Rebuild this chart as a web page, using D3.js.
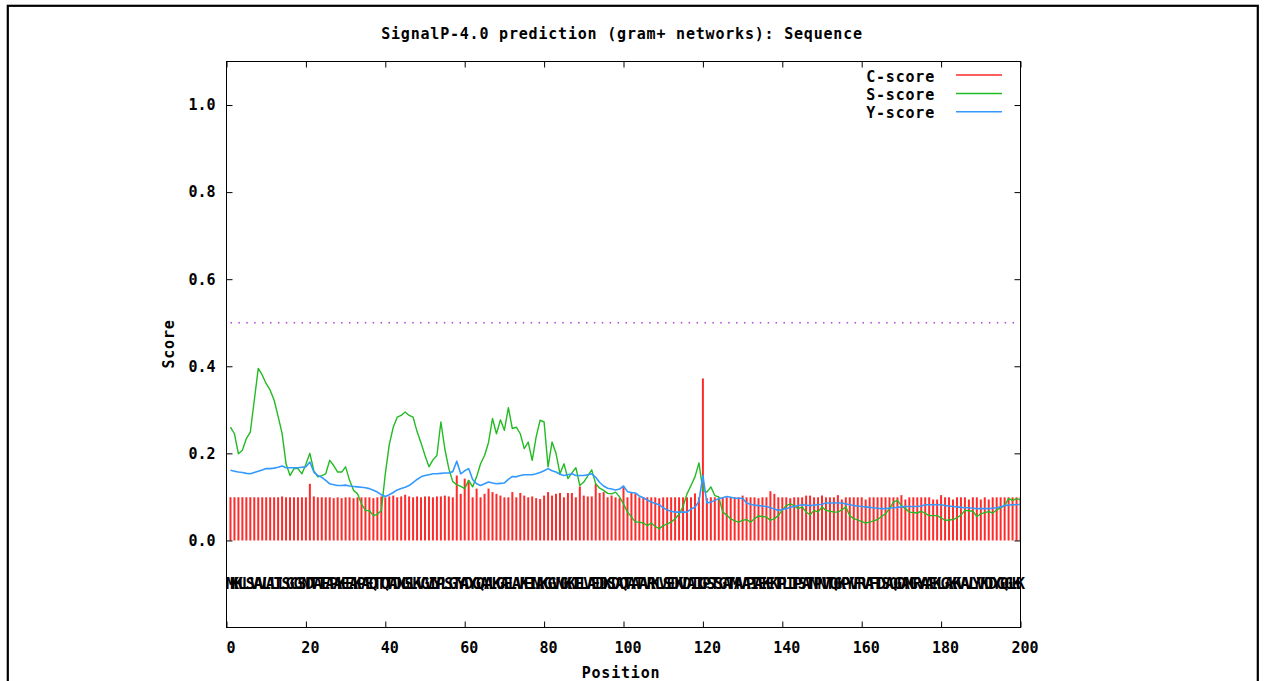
<!DOCTYPE html>
<html>
<head>
<meta charset="utf-8">
<script src="https://cdn.jsdelivr.net/npm/d3@7"></script>
<style>
  html, body { margin: 0; padding: 0; background: #fff; }
  svg { display: block; }
  text { font-family: "DejaVu Sans Mono", "Liberation Mono", monospace; font-weight: bold; fill: #000; }
</style>
</head>
<body>
<svg id="chart" width="1266" height="681"></svg>
<script>
// ---------- data ----------
const title = "SignalP-4.0 prediction (gram+ networks): Sequence";
const xTicks = [0, 20, 40, 60, 80, 100, 120, 140, 160, 180, 200];
const yTicks = [0.0, 0.2, 0.4, 0.6, 0.8, 1.0];
const seriesNames = ["C-score", "S-score", "Y-score"];
const seriesColors = ["#ff2a2a", "#22bb22", "#3399ff"];
const threshold = 0.5;

const sequence = ("MKKLLSVAVLALTLSGCGSNDTATEAPAKEEAKPAEQTTQTADNGSLKVG" +
  "VIYPLSGTYADYGQAALKGAELAVKEINAKGGVNGKKIELVAEDDKSDAQ" +
  "TAATAVRKLVSEDKVDAIIGPSTSGATMAVAPIAEKEKTPLITPSATNPN" +
  "VTQGKPYVFRVAFTDSAQGDAMGRYAAEKLGAKKVAVLYVKDDYGQGLKK").split("");

const cScore = [
  0.099,0.099,0.099,0.099,0.099,0.099,0.099,0.099,0.099,0.099,
  0.099,0.099,0.099,0.101,0.099,0.099,0.099,0.099,0.099,0.099,
  0.130,0.101,0.099,0.099,0.099,0.099,0.097,0.099,0.097,0.099,
  0.099,0.097,0.099,0.099,0.099,0.099,0.097,0.099,0.101,0.099,
  0.101,0.103,0.099,0.101,0.105,0.101,0.099,0.101,0.099,0.101,
  0.101,0.099,0.101,0.101,0.103,0.101,0.099,0.149,0.107,0.142,
  0.138,0.099,0.119,0.099,0.107,0.119,0.111,0.107,0.103,0.099,
  0.099,0.111,0.099,0.109,0.103,0.099,0.101,0.097,0.095,0.103,
  0.111,0.103,0.107,0.109,0.099,0.109,0.109,0.099,0.124,0.103,
  0.101,0.101,0.130,0.109,0.111,0.099,0.103,0.099,0.097,0.123,
  0.099,0.109,0.107,0.099,0.099,0.099,0.099,0.099,0.097,0.099,
  0.099,0.099,0.099,0.099,0.099,0.099,0.099,0.108,0.099,0.372,
  0.097,0.099,0.099,0.099,0.099,0.099,0.099,0.099,0.099,0.103,
  0.099,0.099,0.099,0.097,0.099,0.099,0.113,0.107,0.099,0.099,
  0.099,0.097,0.099,0.099,0.099,0.103,0.103,0.099,0.099,0.103,
  0.099,0.099,0.099,0.104,0.094,0.099,0.099,0.099,0.099,0.099,
  0.094,0.099,0.099,0.099,0.099,0.099,0.099,0.099,0.099,0.104,
  0.094,0.099,0.099,0.099,0.099,0.099,0.099,0.094,0.094,0.104,
  0.099,0.099,0.094,0.099,0.099,0.099,0.094,0.099,0.099,0.094,
  0.099,0.094,0.099,0.099,0.099,0.099,0.099,0.099,0.099,0.099
];

const sScore = [
  0.260,0.245,0.199,0.207,0.234,0.249,0.322,0.395,0.380,0.360,
  0.345,0.322,0.285,0.246,0.176,0.149,0.165,0.165,0.153,0.175,
  0.200,0.160,0.146,0.149,0.153,0.184,0.172,0.157,0.157,0.169,
  0.138,0.115,0.107,0.084,0.069,0.068,0.057,0.060,0.069,0.153,
  0.220,0.260,0.283,0.287,0.295,0.287,0.283,0.250,0.224,0.195,
  0.169,0.185,0.195,0.272,0.210,0.165,0.135,0.128,0.124,0.119,
  0.138,0.123,0.146,0.176,0.195,0.225,0.280,0.245,0.277,0.253,
  0.305,0.257,0.260,0.245,0.211,0.226,0.184,0.238,0.276,0.272,
  0.169,0.226,0.200,0.153,0.176,0.142,0.155,0.167,0.126,0.134,
  0.148,0.162,0.130,0.120,0.115,0.108,0.107,0.111,0.100,0.084,
  0.065,0.054,0.042,0.042,0.040,0.034,0.040,0.032,0.027,0.034,
  0.038,0.042,0.050,0.060,0.078,0.107,0.126,0.146,0.178,0.115,
  0.111,0.123,0.103,0.100,0.065,0.058,0.050,0.045,0.042,0.046,
  0.048,0.042,0.050,0.056,0.055,0.054,0.046,0.050,0.057,0.070,
  0.080,0.084,0.080,0.073,0.077,0.065,0.059,0.069,0.065,0.077,
  0.069,0.067,0.065,0.065,0.070,0.077,0.057,0.050,0.047,0.043,
  0.040,0.042,0.045,0.048,0.055,0.061,0.073,0.088,0.092,0.080,
  0.073,0.065,0.064,0.063,0.067,0.062,0.057,0.057,0.057,0.052,
  0.046,0.047,0.048,0.052,0.058,0.069,0.068,0.067,0.055,0.061,
  0.064,0.066,0.063,0.070,0.075,0.080,0.096,0.092,0.096,0.093
];

const yScore = [
  0.161,0.159,0.157,0.156,0.154,0.153,0.156,0.159,0.162,0.165,
  0.165,0.166,0.168,0.171,0.167,0.167,0.167,0.167,0.168,0.169,
  0.180,0.157,0.149,0.145,0.138,0.130,0.128,0.126,0.126,0.127,
  0.125,0.124,0.123,0.122,0.121,0.119,0.115,0.111,0.105,0.101,
  0.105,0.110,0.116,0.119,0.122,0.126,0.133,0.140,0.146,0.149,
  0.151,0.153,0.153,0.154,0.155,0.155,0.158,0.182,0.153,0.160,
  0.165,0.140,0.130,0.126,0.130,0.134,0.132,0.130,0.131,0.132,
  0.140,0.147,0.146,0.149,0.151,0.151,0.151,0.153,0.156,0.160,
  0.165,0.160,0.157,0.152,0.149,0.151,0.153,0.149,0.149,0.149,
  0.151,0.153,0.145,0.133,0.125,0.120,0.118,0.116,0.118,0.125,
  0.112,0.110,0.109,0.102,0.098,0.093,0.088,0.085,0.082,0.075,
  0.070,0.067,0.065,0.065,0.065,0.065,0.072,0.076,0.090,0.149,
  0.086,0.088,0.092,0.096,0.098,0.101,0.099,0.097,0.097,0.097,
  0.086,0.083,0.081,0.080,0.079,0.078,0.075,0.072,0.069,0.071,
  0.073,0.076,0.078,0.080,0.082,0.081,0.080,0.081,0.082,0.083,
  0.086,0.086,0.086,0.086,0.086,0.084,0.082,0.080,0.079,0.078,
  0.077,0.076,0.075,0.074,0.073,0.073,0.074,0.075,0.076,0.077,
  0.078,0.078,0.078,0.078,0.079,0.082,0.082,0.082,0.082,0.082,
  0.080,0.079,0.078,0.077,0.076,0.075,0.075,0.074,0.073,0.073,
  0.073,0.073,0.074,0.075,0.077,0.080,0.081,0.082,0.082,0.083
];

// ---------- layout ----------
const svg = d3.select("#chart");
const L = 226.5, R = 1020.5, T = 61.5, B = 627.5;
const x = d3.scaleLinear().domain([0, 200]).range([L, R]);
const y = d3.scaleLinear().domain([-0.2, 1.1]).range([B, T]);
const FS = 15;

// outer page border
svg.append("rect").attr("x", 7.8).attr("y", 5.8).attr("width", 1250).attr("height", 720)
  .attr("fill", "none").attr("stroke", "#000").attr("stroke-width", 2.2);

// title
svg.append("text").attr("x", 622).attr("y", 39).attr("text-anchor", "middle")
  .attr("font-size", FS).attr("letter-spacing", 0.8).text(title);

// clip
svg.append("defs").append("clipPath").attr("id", "clip").append("rect")
  .attr("x", L).attr("y", T).attr("width", R - L).attr("height", B - T);

const plot = svg.append("g").attr("clip-path", "url(#clip)");

// C-score bars
const positions = cScore.map((d, i) => i + 1);
plot.append("g").selectAll("line").data(cScore).join("line")
  .attr("x1", (d, i) => x(i + 1)).attr("x2", (d, i) => x(i + 1))
  .attr("y1", y(0)).attr("y2", d => y(d))
  .attr("stroke", seriesColors[0]).attr("stroke-width", 2);

// threshold
plot.append("line").attr("x1", x(1)).attr("x2", x(200)).attr("y1", y(threshold)).attr("y2", y(threshold))
  .attr("stroke", "#b040e0").attr("stroke-width", 1.5).attr("stroke-dasharray", "1.5,6.4");

// lines
const lineGen = d3.line().x((d, i) => x(i + 1)).y(d => y(d));
plot.append("path").datum(sScore).attr("d", lineGen).attr("fill", "none")
  .attr("stroke", seriesColors[1]).attr("stroke-width", 1.4).attr("stroke-linejoin", "round");
plot.append("path").datum(yScore).attr("d", lineGen).attr("fill", "none")
  .attr("stroke", seriesColors[2]).attr("stroke-width", 1.6).attr("stroke-linejoin", "round");

// sequence letters
svg.append("g").selectAll("text").data(sequence.slice(0, 200)).join("text")
  .attr("x", (d, i) => x(i + 1)).attr("y", y(-0.1)).attr("dy", "0.36em")
  .attr("text-anchor", "middle").attr("font-size", FS).text(d => d);

// axes
function styleAxis(g) {
  g.select(".domain").remove();
  g.selectAll(".tick line").attr("stroke", "#000");
  g.selectAll(".tick text").attr("font-size", FS).attr("font-family", "DejaVu Sans Mono")
    .attr("font-weight", "bold").attr("fill", "#000");
}
svg.append("g").attr("transform", `translate(0,${B})`)
  .call(d3.axisBottom(x).tickValues(xTicks).tickSize(-6).tickPadding(15).tickFormat(d3.format("d")))
  .call(styleAxis)
  .selectAll(".tick text").attr("dx", 4);
svg.append("g").attr("transform", `translate(0,${T})`)
  .call(d3.axisTop(x).tickValues(xTicks).tickSize(-6).tickFormat(""))
  .call(styleAxis);
svg.append("g").attr("transform", `translate(${L},0)`)
  .call(d3.axisLeft(y).tickValues(yTicks).tickSize(-6).tickPadding(11).tickFormat(d3.format(".1f")))
  .call(styleAxis);
svg.append("g").attr("transform", `translate(${R},0)`)
  .call(d3.axisRight(y).tickValues(yTicks).tickSize(-6).tickFormat(""))
  .call(styleAxis);

// frame
svg.append("rect").attr("x", L).attr("y", T).attr("width", R - L).attr("height", B - T)
  .attr("fill", "none").attr("stroke", "#000").attr("stroke-width", 1);

// axis titles
svg.append("text").attr("x", 621).attr("y", 678).attr("text-anchor", "middle")
  .attr("font-size", FS).attr("letter-spacing", 0.8).text("Position");
svg.append("text").attr("transform", "translate(174,344) rotate(-90)").attr("text-anchor", "middle")
  .attr("font-size", FS).attr("letter-spacing", 0.8).text("Score");

// legend
const legend = svg.append("g");
seriesNames.forEach((name, i) => {
  const ly = 75 + i * 18.4;
  legend.append("text").attr("x", 935).attr("y", ly + 6.5).attr("text-anchor", "end")
    .attr("font-size", FS).attr("letter-spacing", 0.8).text(name);
  legend.append("line").attr("x1", 956).attr("x2", 1002).attr("y1", ly).attr("y2", ly)
    .attr("stroke", seriesColors[i]).attr("stroke-width", 1.5);
});
</script>
</body>
</html>
